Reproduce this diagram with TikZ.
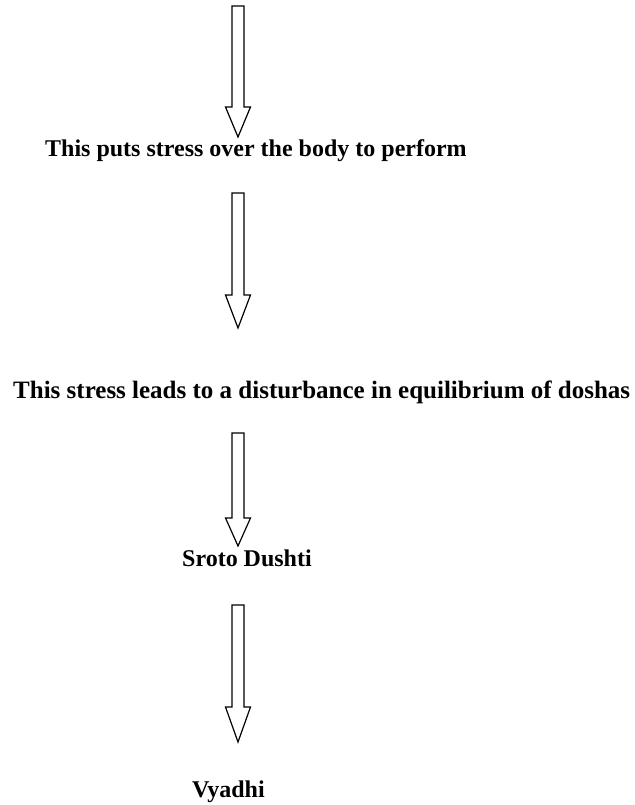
\documentclass[tikz,border=0pt]{standalone}
\usepackage{fontspec}
\setmainfont{Liberation Serif}
\begin{document}
\begin{tikzpicture}[x=1pt,y=-1pt,
  label text/.style={anchor=base west, inner sep=0pt, font=\bfseries\fontsize{24}{28}\selectfont},
  hollow arrow/.style={draw=black, line width=1.2pt, fill=white, line join=miter}]
\useasboundingbox (0,0) rectangle (634,805);
% hollow block arrow: top y, start of head y, tip y
\newcommand\blockarrow[3]{%
  \draw[hollow arrow] (232,#1) -- (244,#1) -- (244,#2) -- (250.5,#2) -- (238,#3)
    -- (225.5,#2) -- (232,#2) -- cycle;}
\blockarrow{6}{107}{137}
\blockarrow{193}{295}{328}
\blockarrow{433}{518}{546}
\blockarrow{605}{707}{742}
\node[label text] (t1) at (45,157) {This puts stress over the body to perform};
\node[label text, font=\bfseries\fontsize{25}{30}\selectfont] (t2) at (13,398)
  {This stress leads to a disturbance in equilibrium of doshas};
\node[label text] (t3) at (182,566) {Sroto Dushti};
\node[label text] (t4) at (192,797) {Vyadhi};
\end{tikzpicture}
\end{document}
